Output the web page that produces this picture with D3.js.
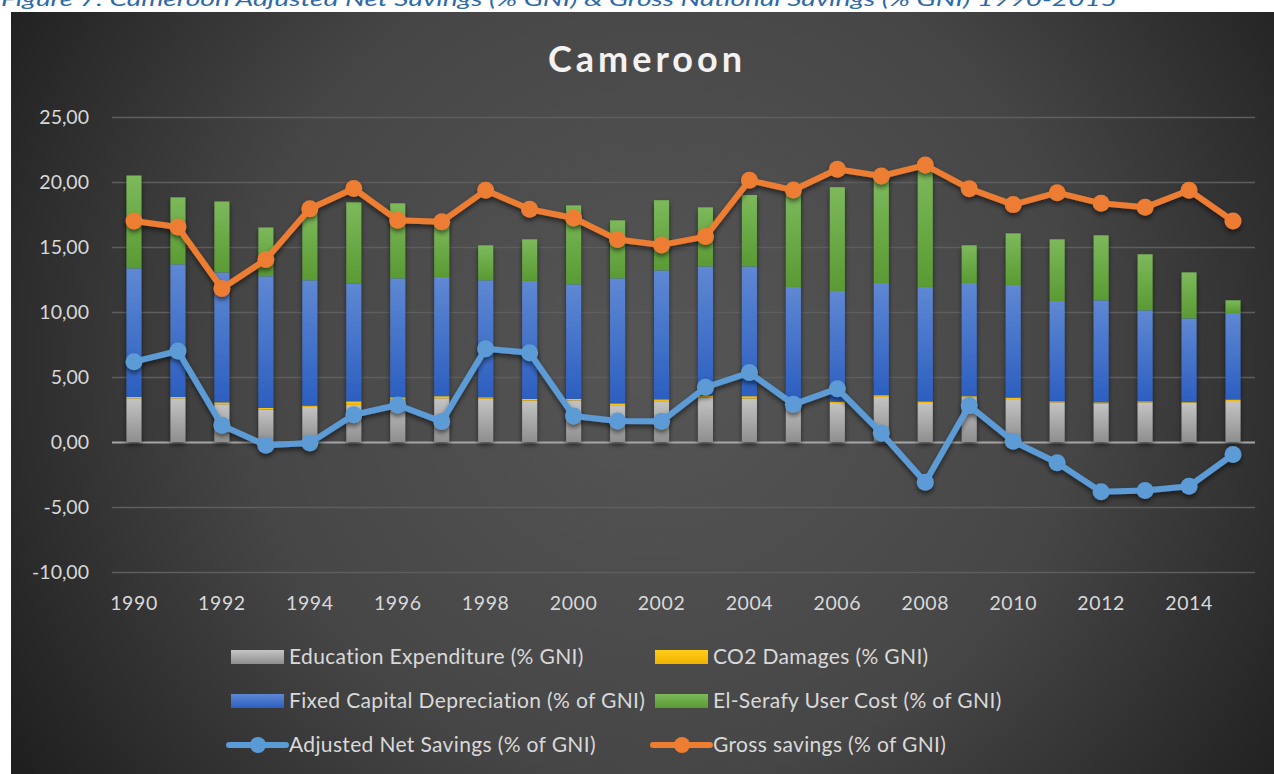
<!DOCTYPE html>
<html>
<head>
<meta charset="utf-8">
<script src="https://cdn.jsdelivr.net/npm/d3@7"></script>
<style>
  body { margin: 0; background: #fff; }
  svg { display: block; }
</style>
</head>
<body>
<div id="grafico"></div>
<script>
// valores
const anos = d3.range(1990, 2016);
const educacao = [3.36, 3.36, 2.9, 2.49, 2.7, 2.85, 3.28, 3.36, 3.33, 3.18, 3.2, 2.77, 3.14,
                  3.42, 3.35, 3.2, 3.0, 3.47, 3.0, 3.38, 3.3, 3.05, 2.97, 3.05, 3.0, 3.15];
const co2 = [0.1, 0.1, 0.15, 0.13, 0.1, 0.28, 0.16, 0.16, 0.11, 0.13, 0.12, 0.2, 0.14,
             0.15, 0.17, 0.12, 0.11, 0.13, 0.12, 0.14, 0.12, 0.08, 0.08, 0.08, 0.06, 0.12];
const capitalFixo = [9.9, 10.21, 10.0, 10.13, 9.64, 9.07, 9.15, 9.18, 9.0, 9.08, 8.81, 9.62, 9.92,
                     9.94, 9.99, 8.6, 8.51, 8.63, 8.8, 8.71, 8.66, 7.72, 7.85, 7.0, 6.45, 6.65];
const elSerafy = [7.14, 5.15, 5.45, 3.75, 5.36, 6.24, 5.77, 4.1, 2.69, 3.2, 6.07, 4.46, 5.4,
                  4.54, 5.49, 7.38, 7.98, 8.17, 9.28, 2.9, 3.97, 4.74, 5.0, 4.31, 3.54, 0.98];
const poupancaLiquida = [6.18, 7.0, 1.28, -0.25, -0.08, 2.1, 2.85, 1.57, 7.18, 6.87, 2.0, 1.62, 1.59,
                         4.21, 5.34, 2.9, 4.1, 0.7, -3.09, 2.8, 0.06, -1.6, -3.83, -3.73, -3.4, -0.96];
const poupancaBruta = [17.0, 16.54, 11.8, 14.03, 17.95, 19.5, 17.05, 16.95, 19.36, 17.9, 17.23, 15.57, 15.16,
                       15.8, 20.13, 19.38, 20.98, 20.46, 21.3, 19.49, 18.26, 19.18, 18.36, 18.05, 19.36, 17.0];
const ticksY = [-10, -5, 0, 5, 10, 15, 20, 25];

const series = [
    { chave: "edu", nome: "Education Expenditure (% GNI)", valores: educacao, cores: ["#c4c4c4", "#8e8e8e"] },
    { chave: "co2", nome: "CO2 Damages (% GNI)", valores: co2, cores: ["#ffcc1a", "#f0b400"] },
    { chave: "fcd", nome: "Fixed Capital Depreciation (% of GNI)", valores: capitalFixo, cores: ["#5f88d3", "#2c5fc0"] },
    { chave: "els", nome: "El-Serafy User Cost (% of GNI)", valores: elSerafy, cores: ["#7db95b", "#5a9a33"] }
];
const linhas = [
    { nome: "Adjusted Net Savings (% of GNI)", valores: poupancaLiquida, cor: "#5b9bd5" },
    { nome: "Gross savings (% of GNI)", valores: poupancaBruta, cor: "#ed7d31" }
];

const largura = 1274, altura = 774;
const fonte = "Lato, 'Open Sans', sans-serif";
const corTexto = "#d9d9d9";

const svg = d3.select("#grafico").append("svg")
    .attr("width", largura)
    .attr("height", altura);

const defs = svg.append("defs");

const fundo = defs.append("radialGradient")
    .attr("id", "fundo")
    .attr("gradientUnits", "userSpaceOnUse")
    .attr("cx", 660).attr("cy", 360).attr("r", 760);
fundo.append("stop").attr("offset", "0%").attr("stop-color", "#565656");
fundo.append("stop").attr("offset", "55%").attr("stop-color", "#464646");
fundo.append("stop").attr("offset", "100%").attr("stop-color", "#1f1f1f");

series.forEach(s => {
    const g = defs.append("linearGradient")
        .attr("id", "grad-" + s.chave)
        .attr("x1", 0).attr("y1", 0).attr("x2", 0).attr("y2", 1);
    g.append("stop").attr("offset", "0%").attr("stop-color", s.cores[0]);
    g.append("stop").attr("offset", "100%").attr("stop-color", s.cores[1]);
});

const sombra = defs.append("filter").attr("id", "sombra")
    .attr("x", "-50%").attr("y", "-20%").attr("width", "200%").attr("height", "150%");
sombra.append("feDropShadow")
    .attr("dx", 0).attr("dy", 3).attr("stdDeviation", 2.5)
    .attr("flood-color", "#000").attr("flood-opacity", 0.55);

// legenda da figura (cortada no topo, como no original)
svg.append("text")
    .attr("x", 1)
    .attr("y", 6)
    .text("Figure 7: Cameroon Adjusted Net Savings (% GNI) & Gross National Savings (% GNI) 1990-2015")
    .attr("textLength", 1116)
    .attr("lengthAdjust", "spacingAndGlyphs")
    .style("font-family", fonte)
    .style("font-style", "italic")
    .style("font-size", "19px")
    .style("fill", "#2e6aa8");

svg.append("rect")
    .attr("x", 11).attr("y", 12)
    .attr("width", largura - 11).attr("height", altura - 12)
    .style("fill", "url(#fundo)");

svg.append("text")
    .attr("x", 647)
    .attr("y", 72)
    .attr("text-anchor", "middle")
    .text("Cameroon")
    .style("font-family", fonte)
    .style("font-weight", "bold")
    .style("font-size", "36px")
    .style("letter-spacing", "4px")
    .style("fill", "#f2f2f2");

const x = d3.scaleBand()
    .domain(anos)
    .range([112, 1255]);

const y = d3.scaleLinear()
    .domain([-10, 25])
    .range([572, 117]);

// grade
const grade = svg.append("g")
    .attr("transform", "translate(112,0)")
    .call(d3.axisLeft(y).tickValues(ticksY).tickSize(-(1255 - 112)).tickFormat(""));
grade.select(".domain").remove();
grade.selectAll("line")
    .style("stroke", d => d === 0 ? "#a6a6a6" : "#5e5e5e")
    .style("stroke-width", d => d === 0 ? 2 : 1.3);

const eixoY = svg.append("g")
    .attr("transform", "translate(92,0)")
    .call(d3.axisLeft(y).tickValues(ticksY).tickSize(0)
        .tickFormat(d => d3.format(".2f")(d).replace(".", ",").replace("−", "-")));
eixoY.select(".domain").remove();
eixoY.selectAll("text")
    .style("font-family", fonte)
    .style("font-size", "19.5px")
    .style("fill", corTexto);

const eixoX = svg.append("g")
    .attr("transform", "translate(0,593)")
    .call(d3.axisBottom(x).tickValues(anos.filter(a => a % 2 === 0)).tickSize(0));
eixoX.select(".domain").remove();
eixoX.selectAll("text")
    .attr("dy", "0.71em")
    .style("font-family", fonte)
    .style("font-size", "19.5px")
    .style("letter-spacing", "0.6px")
    .style("fill", corTexto);

// barras empilhadas
const tabela = anos.map((a, i) => {
    const linha = { ano: a };
    series.forEach(s => { linha[s.chave] = s.valores[i]; });
    return linha;
});
const pilha = d3.stack().keys(series.map(s => s.chave))(tabela);
const larguraBarra = 15;

const barras = svg.append("g").attr("filter", "url(#sombra)");
barras.selectAll("g")
    .data(pilha)
    .join("g")
    .attr("fill", d => `url(#grad-${d.key})`)
    .selectAll("rect")
    .data(d => d)
    .join("rect")
    .attr("x", d => x(d.data.ano) + x.bandwidth() / 2 - larguraBarra / 2)
    .attr("y", d => y(d[1]))
    .attr("width", larguraBarra)
    .attr("height", d => y(d[0]) - y(d[1]));

// linhas
linhas.forEach(l => {
    const g = svg.append("g").attr("filter", "url(#sombra)");
    const linha = d3.line()
        .x((d, i) => x(anos[i]) + x.bandwidth() / 2)
        .y(d => y(d));
    g.append("path")
        .datum(l.valores)
        .attr("d", linha)
        .style("fill", "none")
        .style("stroke", l.cor)
        .style("stroke-width", 6)
        .style("stroke-linejoin", "round");
    g.selectAll("circle")
        .data(l.valores)
        .join("circle")
        .attr("cx", (d, i) => x(anos[i]) + x.bandwidth() / 2)
        .attr("cy", d => y(d))
        .attr("r", 8.5)
        .style("fill", l.cor);
});

// legenda
const itensLegenda = [
    { tipo: "rect", serie: series[0] }, { tipo: "rect", serie: series[1] },
    { tipo: "rect", serie: series[2] }, { tipo: "rect", serie: series[3] },
    { tipo: "linha", serie: linhas[0] }, { tipo: "linha", serie: linhas[1] }
];
const colunasX = [231, 655];
const linhasY = [657, 701, 745];

const legenda = svg.append("g");
const item = legenda.selectAll("g")
    .data(itensLegenda)
    .join("g")
    .attr("transform", (d, i) => `translate(${colunasX[i % 2]},${linhasY[Math.floor(i / 2)]})`);

item.filter(d => d.tipo === "rect")
    .append("rect")
    .attr("x", 0).attr("y", -7)
    .attr("width", 53).attr("height", 14)
    .attr("fill", d => `url(#grad-${d.serie.chave})`);

const itemLinha = item.filter(d => d.tipo === "linha");
itemLinha.append("line")
    .attr("x1", -2).attr("x2", 55)
    .attr("y1", 0).attr("y2", 0)
    .style("stroke", d => d.serie.cor)
    .style("stroke-width", 6)
    .style("stroke-linecap", "round");
itemLinha.append("circle")
    .attr("cx", 27).attr("cy", 0).attr("r", 8)
    .style("fill", d => d.serie.cor);

item.append("text")
    .attr("x", 58)
    .attr("y", 0)
    .attr("dy", "0.35em")
    .text(d => d.serie.nome)
    .style("font-family", fonte)
    .style("font-size", "21px")
    .style("letter-spacing", "0.35px")
    .style("fill", corTexto);
</script>
</body>
</html>
